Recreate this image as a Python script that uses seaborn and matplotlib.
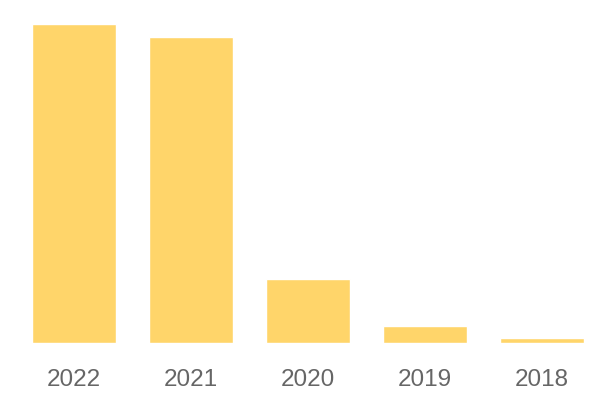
import matplotlib
matplotlib.use('Agg')
import matplotlib.pyplot as plt
import seaborn as sns
import pandas as pd

# dados
anos = ['2022', '2021', '2020', '2019', '2018']
valores = [319, 306, 64, 17, 5]

sns.set_theme(style='white')
plt.rcParams['font.family'] = ['Liberation Sans', 'DejaVu Sans']

df = pd.DataFrame({'ano': anos, 'valor': valores})

fig = plt.figure(figsize=(6, 4), dpi=100)
ax = fig.add_axes([32 / 600, 57 / 400, 552 / 600, 319 / 400])

sns.barplot(data=df, x='ano', y='valor', color='#FFD56A', saturation=1,
            width=0.72, ax=ax)

ax.set_xlim(-0.36, 4.36)
ax.set_ylim(0, max(valores))
ax.set_xlabel('')
ax.set_ylabel('')
ax.set_yticks([])
for s in ax.spines.values():
    s.set_visible(False)
ax.tick_params(axis='x', length=0, pad=19, labelsize=17.5, labelcolor='#666666')

plt.savefig('out.png', dpi=100)
